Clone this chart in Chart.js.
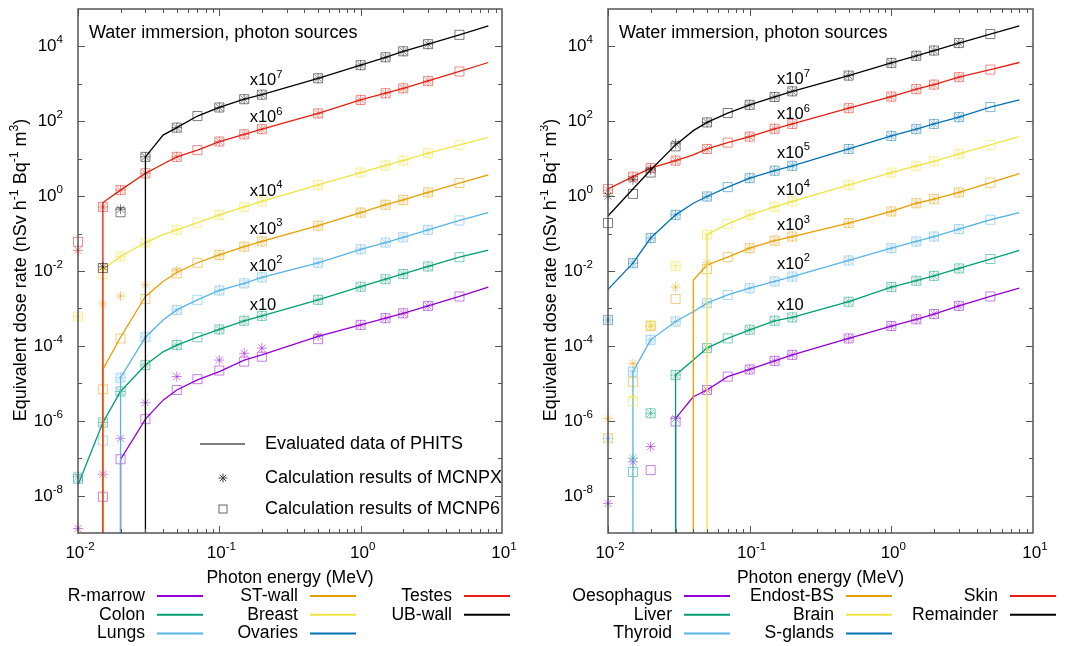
<!DOCTYPE html>
<html>
<head>
<meta charset="utf-8">
<script src="https://cdn.jsdelivr.net/npm/chart.js@4.4.1/dist/chart.umd.min.js"></script>
<style>
  body { margin: 0; background: #fff; }
  #wrap { position: relative; width: 1079px; height: 646px; }
  canvas { position: absolute; top: 0; }
</style>
</head>
<body>
<div id="wrap">
  <canvas id="leftChart" width="540" height="646" style="left:0"></canvas>
  <canvas id="rightChart" width="539" height="646" style="left:540px"></canvas>
</div>
<script>
// photon energies (MeV)
const eLine = [0.01, 0.015, 0.02, 0.03, 0.04, 0.05, 0.07, 0.1, 0.15, 0.2, 0.5, 1, 1.5, 2, 3, 5, 8];
const eMcnpx = [0.01, 0.015, 0.02, 0.03, 0.05, 0.1, 0.15, 0.2, 0.5, 1, 1.5, 2, 3];
const eMcnp6 = [0.01, 0.015, 0.02, 0.03, 0.05, 0.07, 0.1, 0.15, 0.2, 0.5, 1, 1.5, 2, 3, 5];

// left panel (values as plotted, multipliers included)
const rMarrowLine = [null, null, 9.3e-8, 1.1e-6, 3.55e-6, 6.6e-6, 1.23e-5, 2.04e-5, 4.17e-5, 5.75e-5, 1.78e-4, 3.63e-4, 5.5e-4, 7.41e-4, 1.17e-3, 2.09e-3, 3.72e-3];
const rMarrowX = [1.32e-9, 3.72e-8, 3.39e-7, 3.02e-6, 1.51e-5, 4.17e-5, 6.31e-5, 8.71e-5, 1.82e-4, 3.63e-4, 5.5e-4, 7.41e-4, 1.17e-3];
const rMarrow6 = [null, 9.33e-9, 9.33e-8, 1.1e-6, 6.61e-6, 1.29e-5, 2.19e-5, 3.8e-5, 5.13e-5, 1.51e-4, 3.63e-4, 5.5e-4, 7.41e-4, 1.17e-3, 2.09e-3];

const colonLine = [1.91e-8, 8.91e-7, 6.03e-6, 3.09e-5, 6.92e-5, 1.05e-4, 1.7e-4, 2.75e-4, 4.68e-4, 6.31e-4, 1.7e-3, 3.8e-3, 6.03e-3, 8.32e-3, 1.32e-2, 2.34e-2, 3.63e-2];
const colonX = [3.16e-8, 8.91e-7, 6.03e-6, 3.09e-5, 1.05e-4, 2.75e-4, 4.68e-4, 6.31e-4, 1.7e-3, 3.8e-3, 6.03e-3, 8.32e-3, 1.32e-2];
const colon6 = [2.82e-8, 8.91e-7, 6.03e-6, 3.09e-5, 1.05e-4, 1.7e-4, 2.75e-4, 4.68e-4, 6.31e-4, 1.7e-3, 3.8e-3, 6.03e-3, 8.32e-3, 1.32e-2, 2.34e-2];

const lungsLine = [null, null, 1.41e-5, 1.7e-4, 4.9e-4, 9.12e-4, 1.7e-3, 3.02e-3, 4.68e-3, 6.76e-3, 1.66e-2, 3.8e-2, 5.75e-2, 7.94e-2, 0.126, 0.224, 0.363];
const lungsX = [null, null, 1.41e-5, 1.7e-4, 9.12e-4, 3.02e-3, 4.68e-3, 6.76e-3, 1.66e-2, 3.8e-2, 5.75e-2, 7.94e-2, 0.126];
const lungs6 = [3.16e-8, 2.95e-7, 1.41e-5, 1.7e-4, 9.12e-4, 1.7e-3, 3.02e-3, 4.68e-3, 6.76e-3, 1.66e-2, 3.8e-2, 5.75e-2, 7.94e-2, 0.126, 0.224];

const stWallLine = [null, 2.34e-5, 1.7e-4, 2.09e-3, 5.25e-3, 9.12e-3, 1.66e-2, 2.69e-2, 4.47e-2, 6.17e-2, 0.162, 0.363, 0.589, 0.794, 1.26, 2.24, 3.72];
const stWallX = [null, 1.32e-3, 2.14e-3, 4.27e-3, 1.02e-2, 2.69e-2, 4.47e-2, 6.17e-2, 0.162, 0.363, 0.589, 0.794, 1.26];
const stWall6 = [null, 6.92e-6, 1.58e-4, 1.78e-3, 8.71e-3, 1.66e-2, 2.69e-2, 4.47e-2, 6.17e-2, 0.162, 0.363, 0.589, 0.794, 1.26, 2.24];

const breastLine = [null, 1.12e-2, 2.45e-2, 5.75e-2, 9.33e-2, 0.126, 0.195, 0.316, 0.513, 0.724, 2.0, 4.27, 6.61, 8.91, 14.1, 23.4, 37.2];
const breastX = [6.03e-4, 1.12e-2, 2.45e-2, 5.75e-2, 0.126, 0.316, 0.513, 0.724, 2.0, 4.27, 6.61, 8.91, 14.1];
const breast6 = [6.03e-4, 8.32e-3, 2.45e-2, 5.75e-2, 0.126, 0.195, 0.316, 0.513, 0.724, 2.0, 4.27, 6.61, 8.91, 14.1, 23.4];

const testesLine = [null, 0.676, 1.45, 4.07, 7.24, 11.2, 17.0, 28.8, 44.7, 61.7, 162, 372, 562, 759, 1200, 2140, 3720];
const testesX = [0.0355, 0.513, 1.45, 4.07, 11.2, 28.8, 44.7, 61.7, 162, 372, 562, 759, 1200];
const testes6 = [0.0603, 0.513, 1.45, 4.07, 11.2, 17.0, 28.8, 44.7, 61.7, 162, 372, 562, 759, 1200, 2140];

const ubWallLine = [null, null, null, 11.2, 42.7, 67.6, 138, 234, 389, 513, 1410, 3160, 5130, 7410, 11500, 20400, 35500];
const ubWallX = [null, 0.0129, 0.447, 11.2, 67.6, 234, 389, 513, 1410, 3160, 5130, 7410, 11500];
const ubWall6 = [null, 0.012, 0.372, 11.2, 67.6, 138, 234, 389, 513, 1410, 3160, 5130, 7410, 11500, 20400];

// right panel
const oesophagusLine = [null, null, null, 1.15e-6, 4.37e-6, 6.61e-6, 1.51e-5, 2.34e-5, 3.98e-5, 5.75e-5, 1.58e-4, 3.39e-4, 5.13e-4, 7.08e-4, 1.17e-3, 2.09e-3, 3.47e-3];
const oesophagusX = [6.17e-9, 7.94e-8, 2.04e-7, 1.15e-6, 6.61e-6, 2.34e-5, 3.98e-5, 5.75e-5, 1.58e-4, 3.39e-4, 5.13e-4, 7.08e-4, 1.17e-3];
const oesophagus6 = [null, null, 4.79e-8, 9.55e-7, 6.61e-6, 1.51e-5, 2.34e-5, 3.98e-5, 5.75e-5, 1.58e-4, 3.39e-4, 5.13e-4, 7.08e-4, 1.17e-3, 2.09e-3];

const liverLine = [null, null, null, 1.66e-5, 4.17e-5, 8.71e-5, 1.58e-4, 2.69e-4, 4.68e-4, 5.75e-4, 1.51e-3, 3.72e-3, 5.5e-3, 7.41e-3, 1.17e-2, 2.09e-2, 3.55e-2];
const liverX = [null, 1.0e-7, 1.58e-6, 1.66e-5, 8.71e-5, 2.69e-4, 4.68e-4, 5.75e-4, 1.51e-3, 3.72e-3, 5.5e-3, 7.41e-3, 1.17e-2];
const liver6 = [null, 4.27e-8, 1.58e-6, 1.66e-5, 8.71e-5, 1.58e-4, 2.69e-4, 4.68e-4, 5.75e-4, 1.51e-3, 3.72e-3, 5.5e-3, 7.41e-3, 1.17e-2, 2.09e-2];

const thyroidLine = [null, 2.04e-5, 1.45e-4, 4.47e-4, 8.13e-4, 1.38e-3, 2.29e-3, 3.47e-3, 5.25e-3, 7.08e-3, 1.91e-2, 4.07e-2, 6.17e-2, 8.32e-2, 0.132, 0.234, 0.363];
const thyroidX = [3.39e-7, 2.04e-5, 1.45e-4, 4.47e-4, 1.38e-3, 3.47e-3, 5.25e-3, 7.08e-3, 1.91e-2, 4.07e-2, 6.17e-2, 8.32e-2, 0.132];
const thyroid6 = [null, 2.04e-5, 1.45e-4, 4.47e-4, 1.38e-3, 2.29e-3, 3.47e-3, 5.25e-3, 7.08e-3, 1.91e-2, 4.07e-2, 6.17e-2, 8.32e-2, 0.132, 0.234];

const endostLine = [null, null, null, null, 5.75e-3, 1.45e-2, 2.34e-2, 4.07e-2, 6.46e-2, 8.32e-2, 0.191, 0.389, 0.646, 0.832, 1.26, 2.29, 3.98];
const endostX = [1.15e-6, 3.39e-5, 3.39e-4, 3.72e-3, 1.66e-2, 4.07e-2, 6.46e-2, 8.32e-2, 0.191, 0.389, 0.646, 0.832, 1.26];
const endost6 = [3.39e-7, 1.1e-5, 3.39e-4, 1.78e-3, 1.12e-2, 2.34e-2, 4.07e-2, 6.46e-2, 8.32e-2, 0.191, 0.389, 0.646, 0.832, 1.26, 2.29];

const brainLine = [null, null, null, null, null, 9.33e-2, 0.182, 0.316, 0.513, 0.724, 2.0, 4.27, 6.46, 8.51, 13.5, 23.4, 38.9];
const brainX = [null, 4.37e-6, 3.55e-4, 1.38e-2, 9.33e-2, 0.316, 0.513, 0.724, 2.0, 4.27, 6.46, 8.51, 13.5];
const brain6 = [null, 3.24e-6, 3.55e-4, 1.38e-2, 9.33e-2, 0.182, 0.316, 0.513, 0.724, 2.0, 4.27, 6.46, 8.51, 13.5, 23.4];

const sGlandsLine = [3.24e-3, 1.62e-2, 7.59e-2, 0.316, 0.646, 0.977, 1.74, 3.02, 4.79, 6.46, 18.2, 40.7, 61.7, 85.1, 129, 240, 372];
const sGlandsX = [4.9e-4, 1.62e-2, 7.59e-2, 0.316, 0.977, 3.02, 4.79, 6.46, 18.2, 40.7, 61.7, 85.1, 129];
const sGlands6 = [4.9e-4, 1.62e-2, 7.59e-2, 0.316, 0.977, 1.74, 3.02, 4.79, 6.46, 18.2, 40.7, 61.7, 85.1, 129, 240];

const skinLine = [1.55, 3.31, 5.62, 8.91, 12.6, 18.2, 26.9, 38.9, 63.1, 85.1, 224, 457, 724, 955, 1510, 2400, 3720];
const skinX = [1.45, 3.31, 5.62, 8.91, 18.2, 38.9, 63.1, 85.1, 224, 457, 724, 955, 1510];
const skin6 = [1.55, 3.31, 5.62, 8.91, 18.2, 26.9, 38.9, 63.1, 85.1, 224, 457, 724, 955, 1510, 2400];

const remainderLine = [0.295, 1.55, 5.01, 23.4, 56.2, 93.3, 166, 275, 447, 631, 1660, 3630, 5620, 7760, 12300, 21400, 35500];
const remainderX = [1.0, 2.75, 5.01, 25.1, 93.3, 275, 447, 631, 1660, 3630, 5620, 7760, 12300];
const remainder6 = [0.191, 1.15, 4.27, 21.4, 93.3, 166, 275, 447, 631, 1660, 3630, 5620, 7760, 12300, 21400];

// multiplier labels (exponent, value where the label sits)
const leftMultExp = ['7', '6', '4', '3', '2', ''];
const leftMultAt = [1200, 123, 1.32, 0.132, 0.0132, 1.23e-3];
const rightMultExp = ['7', '6', '5', '4', '3', '2', ''];
const rightMultAt = [1290, 148, 14.1, 1.41, 0.162, 0.0151, 1.23e-3];

const xMin = 0.01, xMax = 10, yMin = 1e-9, yMax = 1e5;
const FONT = '"Liberation Sans", Arial, sans-serif';

const C = {
  purple: '#9400d3', green: '#009e73', sky: '#56b4e9', orange: '#e69f00',
  yellow: '#f0e442', blue: '#0072b2', red: '#e51e10', black: '#000000'
};

const leftOrgans = [
  { name: 'R-marrow', color: C.purple, line: rMarrowLine, px: rMarrowX, p6: rMarrow6 },
  { name: 'Colon', color: C.green, line: colonLine, px: colonX, p6: colon6 },
  { name: 'Lungs', color: C.sky, line: lungsLine, px: lungsX, p6: lungs6 },
  { name: 'ST-wall', color: C.orange, line: stWallLine, px: stWallX, p6: stWall6 },
  { name: 'Breast', color: C.yellow, line: breastLine, px: breastX, p6: breast6 },
  { name: 'Ovaries', color: C.blue },
  { name: 'Testes', color: C.red, line: testesLine, px: testesX, p6: testes6 },
  { name: 'UB-wall', color: C.black, line: ubWallLine, px: ubWallX, p6: ubWall6 }
];
const rightOrgans = [
  { name: 'Oesophagus', color: C.purple, line: oesophagusLine, px: oesophagusX, p6: oesophagus6 },
  { name: 'Liver', color: C.green, line: liverLine, px: liverX, p6: liver6 },
  { name: 'Thyroid', color: C.sky, line: thyroidLine, px: thyroidX, p6: thyroid6 },
  { name: 'Endost-BS', color: C.orange, line: endostLine, px: endostX, p6: endost6 },
  { name: 'Brain', color: C.yellow, line: brainLine, px: brainX, p6: brain6 },
  { name: 'S-glands', color: C.blue, line: sGlandsLine, px: sGlandsX, p6: sGlands6 },
  { name: 'Skin', color: C.red, line: skinLine, px: skinX, p6: skin6 },
  { name: 'Remainder', color: C.black, line: remainderLine, px: remainderX, p6: remainder6 }
];

function pts(es, vs) {
  const out = [];
  es.forEach((e, i) => { if (vs[i] != null) out.push({ x: e, y: vs[i] }); });
  return out;
}
// curves that begin above 10 keV rise straight from the bottom of the frame
function linePts(vs) {
  const out = pts(eLine, vs);
  if (out.length && out[0].x > xMin) out.unshift({ x: out[0].x, y: yMin });
  return out;
}
function fade(hex, a) {
  const n = parseInt(hex.slice(1), 16);
  return `rgba(${n >> 16},${(n >> 8) & 255},${n & 255},${a})`;
}

// text with superscripts: segs = [[text, isSup], ...]
function rich(ctx, x, y, segs, size, align, color) {
  const sup = size * 0.68;
  let w = 0;
  segs.forEach(s => { ctx.font = (s[1] ? sup : size) + 'px ' + FONT; w += ctx.measureText(s[0]).width; });
  let cx = align === 'right' ? x - w : align === 'center' ? x - w / 2 : x;
  ctx.fillStyle = color || '#000';
  ctx.textAlign = 'left';
  ctx.textBaseline = 'middle';
  segs.forEach(s => {
    ctx.font = (s[1] ? sup : size) + 'px ' + FONT;
    ctx.fillText(s[0], cx, s[1] ? y - size * 0.38 : y);
    cx += ctx.measureText(s[0]).width;
  });
}

function makePanel(id, organs, pad, cfg) {
  const datasets = [];
  organs.forEach(o => {
    if (!o.line) return;
    datasets.push({ data: linePts(o.line), showLine: true, borderColor: o.color, borderWidth: 1.3,
      pointRadius: 0, fill: false, tension: 0 });
    datasets.push({ data: pts(eMcnpx, o.px), showLine: false, pointStyle: 'star', pointRadius: 5,
      borderColor: fade(o.color, 0.5), backgroundColor: 'rgba(0,0,0,0)', borderWidth: 1, clip: false });
    datasets.push({ data: pts(eMcnp6, o.p6), showLine: false, pointStyle: 'rect', pointRadius: 6.4,
      borderColor: fade(o.color, 0.5), backgroundColor: 'rgba(0,0,0,0)', borderWidth: 1, clip: false });
  });
  datasets.reverse(); // later organs on top, like gnuplot

  const decor = {
    id: 'decor',
    afterDraw(chart) {
      const ctx = chart.ctx, ca = chart.chartArea;
      const xs = chart.scales.x, ys = chart.scales.y;
      ctx.save();
      ctx.strokeStyle = '#555';
      ctx.lineWidth = 1;
      // y ticks, every decade, labels every second one
      for (let d = -8; d <= 4; d++) {
        const py = Math.round(ys.getPixelForValue(Math.pow(10, d))) + 0.5;
        const len = d % 2 === 0 ? 7 : 4;
        ctx.beginPath();
        ctx.moveTo(ca.left, py); ctx.lineTo(ca.left + len, py);
        ctx.moveTo(ca.right, py); ctx.lineTo(ca.right - len, py);
        ctx.stroke();
        if (d % 2 === 0) rich(ctx, ca.left - 15, py, [['10', false], [String(d), true]], 17, 'right');
      }
      // x ticks
      for (let d = -2; d <= 0; d++) {
        for (let m = 1; m <= 9; m++) {
          const px = Math.round(xs.getPixelForValue(m * Math.pow(10, d))) + 0.5;
          const len = m === 1 ? 7 : 4;
          ctx.beginPath();
          ctx.moveTo(px, ca.bottom); ctx.lineTo(px, ca.bottom - len);
          ctx.moveTo(px, ca.top); ctx.lineTo(px, ca.top + len);
          ctx.stroke();
        }
      }
      for (let d = -2; d <= 1; d++) {
        const px = xs.getPixelForValue(Math.pow(10, d));
        rich(ctx, px + 2, ca.bottom + 20, [['10', false], [String(d), true]], 17, 'center');
      }
      // frame
      ctx.lineWidth = 1.5;
      ctx.strokeRect(ca.left, ca.top, ca.right - ca.left, ca.bottom - ca.top);

      // axis titles
      rich(ctx, (ca.left + ca.right) / 2, ca.bottom + 45, [['Photon energy (MeV)', false]], 17.6, 'center');
      ctx.save();
      ctx.translate(ca.left - 57, 270);
      ctx.rotate(-Math.PI / 2);
      rich(ctx, 0, 0, [['Equivalent dose rate (nSv h', false], ['-1', true], [' Bq', false], ['-1', true],
        [' m', false], ['3', true], [')', false]], 18, 'center');
      ctx.restore();

      // title inside frame
      rich(ctx, ca.left + 11, ca.top + 24, [['Water immersion, photon sources', false]], 18, 'left');

      // multiplier labels
      cfg.multExp.forEach((e, i) => {
        const px = xs.getPixelForValue(cfg.multX), py = ys.getPixelForValue(cfg.multAt[i]);
        rich(ctx, px, py, e ? [['x10', false], [e, true]] : [['x10', false]], 16.5, 'left');
      });

      // key for line / MCNPX / MCNP6
      if (cfg.key) {
        const kx = ca.left + 122, ky = ca.top + 435;
        ctx.strokeStyle = '#555'; ctx.lineWidth = 1.3;
        ctx.beginPath(); ctx.moveTo(kx, ky); ctx.lineTo(kx + 45, ky); ctx.stroke();
        const sx = kx + 23, sy = ky + 34;
        ctx.strokeStyle = '#444'; ctx.lineWidth = 1;
        ctx.beginPath();
        ctx.moveTo(sx - 4.5, sy); ctx.lineTo(sx + 4.5, sy);
        ctx.moveTo(sx, sy - 4.5); ctx.lineTo(sx, sy + 4.5);
        ctx.moveTo(sx - 3.2, sy - 3.2); ctx.lineTo(sx + 3.2, sy + 3.2);
        ctx.moveTo(sx - 3.2, sy + 3.2); ctx.lineTo(sx + 3.2, sy - 3.2);
        ctx.stroke();
        ctx.strokeStyle = '#666';
        ctx.strokeRect(sx - 4, ky + 65 - 4, 8, 8);
        rich(ctx, kx + 65, ky, [['Evaluated data of PHITS', false]], 18, 'left');
        rich(ctx, kx + 65, sy, [['Calculation results of MCNPX', false]], 18, 'left');
        rich(ctx, kx + 65, ky + 65, [['Calculation results of MCNP6', false]], 18, 'left');
      }

      // organ legend below the axis
      organs.forEach((o, i) => {
        const col = Math.floor(i / 3), row = i % 3;
        const tx = cfg.legendCols[col], ty = 596 + row * 18.8;
        rich(ctx, tx, ty, [[o.name, false]], 17.6, 'right');
        ctx.strokeStyle = o.color; ctx.lineWidth = 2;
        ctx.beginPath(); ctx.moveTo(tx + 12, ty); ctx.lineTo(tx + 58, ty); ctx.stroke();
      });
      ctx.restore();
    }
  };

  return new Chart(document.getElementById(id), {
    type: 'scatter',
    data: { datasets },
    options: {
      responsive: false,
      animation: false,
      devicePixelRatio: 1,
      events: [],
      layout: { padding: pad },
      plugins: { legend: { display: false }, tooltip: { enabled: false } },
      scales: {
        x: { type: 'logarithmic', min: xMin, max: xMax, display: false },
        y: { type: 'logarithmic', min: yMin, max: yMax, display: false }
      }
    },
    plugins: [decor]
  });
}

makePanel('leftChart', leftOrgans, { left: 78, right: 38, top: 9, bottom: 113 },
  { multExp: leftMultExp, multAt: leftMultAt, multX: 0.164, key: true, legendCols: [145, 298, 452] });
makePanel('rightChart', rightOrgans, { left: 68, right: 46, top: 9, bottom: 113 },
  { multExp: rightMultExp, multAt: rightMultAt, multX: 0.156, key: false, legendCols: [132, 294, 458] });
</script>
</body>
</html>
